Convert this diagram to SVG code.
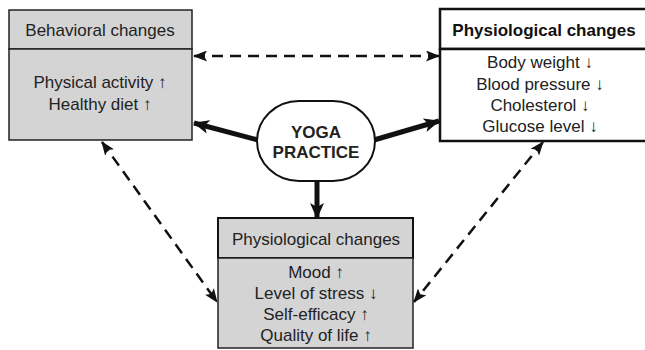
<svg xmlns="http://www.w3.org/2000/svg" width="645" height="350" viewBox="0 0 645 350">
<defs>
<style>
text{font-family:"Liberation Sans",Arial,sans-serif;font-size:17px;fill:#222;text-anchor:middle}
.b{font-weight:bold;fill:#111}
.y{font-weight:bold;font-size:17px;fill:#222}
.gray{fill:#d4d4d4;stroke:#222;stroke-width:1.5}
.white{fill:#fff;stroke:#111;stroke-width:2.5}
.thick{stroke:#111;stroke-width:5;fill:none}
.dash{stroke:#111;stroke-width:2.5;fill:none;stroke-dasharray:11,7}
</style>
<marker id="big" viewBox="0 0 16 14" refX="15" refY="7" markerWidth="16" markerHeight="14" markerUnits="userSpaceOnUse" orient="auto-start-reverse">
<path d="M0,0 L16,7 L0,14 L4,7 Z" fill="#111"/>
</marker>
<marker id="sm" viewBox="0 0 14 11" refX="13" refY="5.5" markerWidth="14" markerHeight="11" markerUnits="userSpaceOnUse" orient="auto-start-reverse">
<path d="M0,0 L14,5.5 L0,11 L3,5.5 Z" fill="#111"/>
</marker>
</defs>
<g id="connectors">
<line class="thick" x1="258" y1="140" x2="194" y2="123" marker-end="url(#big)"/>
<line class="thick" x1="374" y1="140" x2="439" y2="121" marker-end="url(#big)"/>
<line class="thick" x1="317" y1="181" x2="317" y2="218" marker-end="url(#big)"/>
<line class="dash" x1="194" y1="56" x2="439" y2="56" marker-start="url(#sm)" marker-end="url(#sm)"/>
<line class="dash" x1="102" y1="142" x2="217" y2="302" marker-start="url(#sm)" marker-end="url(#sm)"/>
<line class="dash" x1="543" y1="142" x2="414" y2="302" marker-start="url(#sm)" marker-end="url(#sm)"/>
</g>
<g id="behavioral">
<rect class="gray" x="9" y="10" width="183" height="39"/>
<rect class="gray" x="9" y="49" width="183" height="91"/>
<text x="100" y="36">Behavioral changes</text>
<text x="100" y="88">Physical activity ↑</text>
<text x="100" y="110">Healthy diet ↑</text>
</g>
<g id="physiological-right">
<rect class="white" x="440" y="9" width="210" height="40"/>
<rect class="white" x="440" y="49" width="210" height="92"/>
<text class="b" x="544" y="36">Physiological changes</text>
<text x="540" y="68">Body weight ↓</text>
<text x="540" y="90">Blood pressure ↓</text>
<text x="540" y="111">Cholesterol ↓</text>
<text x="540" y="132">Glucose level ↓</text>
</g>
<g id="yoga">
<rect x="257" y="101" width="118" height="80" rx="42" ry="40" fill="#fff" stroke="#111" stroke-width="2"/>
<text class="y" x="316" y="138">YOGA</text>
<text class="y" x="316" y="158">PRACTICE</text>
</g>
<g id="physiological-bottom">
<rect x="218" y="218" width="195" height="40" fill="#d4d4d4" stroke="#111" stroke-width="2"/>
<rect class="gray" x="218" y="258" width="195" height="90"/>
<text x="316" y="245">Physiological changes</text>
<text x="316" y="278">Mood ↑</text>
<text x="316" y="299">Level of stress ↓</text>
<text x="316" y="320">Self-efficacy ↑</text>
<text x="316" y="341">Quality of life ↑</text>
</g>
</svg>
